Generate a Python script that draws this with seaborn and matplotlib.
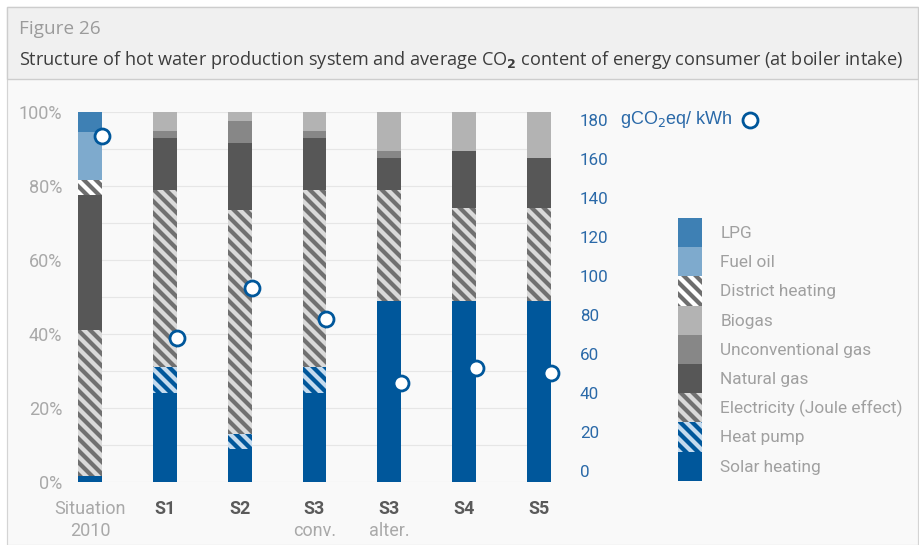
import numpy as np
import matplotlib.pyplot as plt
import seaborn as sns
from matplotlib.patches import Patch, Rectangle
from matplotlib.lines import Line2D

# categories
scenarios = ['Situation 2010', 'S1', 'S2', 'S3 conv.', 'S3 alter.', 'S4', 'S5']
label_top = ['Situation', 'S1', 'S2', 'S3', 'S3', 'S4', 'S5']
label_sub = ['2010', '', '', 'conv.', 'alter.', '', '']

# shares of hot water production (%), bottom -> top of the stack
solar = [1.5, 24, 9, 24, 49, 49, 49]
heat_pump = [0, 7, 4, 7, 0, 0, 0]
electricity = [39.5, 48, 60.5, 48, 30, 25, 25]
natural_gas = [36.5, 14, 18, 14, 8.5, 15.5, 13.5]
unconv_gas = [0, 2, 6, 2, 2, 0, 0]
biogas = [0, 5, 2.5, 5, 10.5, 10.5, 12.5]
district = [4, 0, 0, 0, 0, 0, 0]
fuel_oil = [13, 0, 0, 0, 0, 0, 0]
lpg = [5.5, 0, 0, 0, 0, 0, 0]

# average CO2 content (gCO2eq/kWh)
co2 = [172, 68, 94, 78, 45, 53, 50]

pct_ticks = [0, 20, 40, 60, 80, 100]
co2_ticks = [0, 20, 40, 60, 80, 100, 120, 140, 160, 180]

BLUE = '#00579b'
STRIPES = '\\' * 4
# (label, values, face colour, hatch colour, hatch)
layers = [
    ('Solar heating', solar, BLUE, BLUE, None),
    ('Heat pump', heat_pump, BLUE, '#c5dbee', STRIPES),
    ('Electricity (Joule effect)', electricity, '#dadada', '#707070', STRIPES),
    ('Natural gas', natural_gas, '#575757', '#575757', None),
    ('Unconventional gas', unconv_gas, '#878787', '#878787', None),
    ('Biogas', biogas, '#b3b3b3', '#b3b3b3', None),
    ('District heating', district, '#ffffff', '#6e6e6e', STRIPES),
    ('Fuel oil', fuel_oil, '#7eaacd', '#7eaacd', None),
    ('LPG', lpg, '#3e80b4', '#3e80b4', None),
]

sns.set_style('white')
plt.rcParams['font.family'] = ['Roboto', 'DejaVu Sans']
plt.rcParams['hatch.linewidth'] = 2.1

W, H, DPI = 919, 545, 144
fig = plt.figure(figsize=(W / DPI, H / DPI), dpi=DPI, facecolor='white')

# frame + header band
fig.add_artist(Rectangle((7 / W, 0), (918 - 7) / W, 1 - 7 / H, transform=fig.transFigure,
                         facecolor='#f9f9f9', edgecolor='#d4d4d4', lw=0.6, zorder=-10))
fig.add_artist(Rectangle((7 / W, 1 - 79 / H), (918 - 7) / W, (79 - 7) / H, transform=fig.transFigure,
                         facecolor='#f0f0f0', edgecolor='#cdcdcd', lw=0.7, zorder=-9))
fig.text(19 / W, 1 - 29 / H, 'Figure 26', family=['Open Sans', 'DejaVu Sans'], size=9.5,
         color='#9b9b9b', va='center')
fig.text(19 / W, 1 - 60 / H,
         r'Structure of hot water production system and average CO$_\mathbf{2}$ content of energy consumer (at boiler intake)',
         family=['Open Sans', 'DejaVu Sans'], size=9.05, color='#3c3c3c', va='center')

ax = fig.add_axes([78 / W, 63 / H, 473 / W, 370 / H])
ax.set_facecolor('none')

bar_w = 0.32
cum = np.cumsum(np.array([l[1] for l in layers], dtype=float), axis=0)
for i in reversed(range(len(layers))):
    name, vals, fc, hc, hatch = layers[i]
    n0 = len(ax.patches)
    sns.barplot(x=scenarios, y=cum[i], order=scenarios, color=fc, saturation=1,
                width=bar_w, errorbar=None, ax=ax)
    for p in ax.patches[n0:]:
        p.set_facecolor(fc)
        p.set_edgecolor(hc)
        p.set_linewidth(0)
        if hatch:
            p.set_hatch(hatch)

ax.set_xlim(-bar_w / 2, len(scenarios) - 1 + bar_w / 2)
ax.set_ylim(0, 100)
ax.set_yticks(pct_ticks)
ax.set_yticklabels([f'{v}%' for v in pct_ticks])
ax.set_yticks(range(0, 101, 10), minor=True)
ax.grid(which='both', axis='y', color='#e6e6e6', lw=0.6)
ax.set_axisbelow(True)
ax.tick_params(axis='y', which='both', length=0, pad=8, labelsize=9, labelcolor='#a9a9a9')
ax.set_xticks(range(len(scenarios)))
ax.set_xticklabels([])
ax.tick_params(axis='x', length=0)
ax.set_xlabel('')
ax.set_ylabel('')
for s in ax.spines.values():
    s.set_visible(False)

for i in range(len(scenarios)):
    bold = i > 0
    ax.annotate(label_top[i], xy=(i, 0), xycoords=('data', 'axes fraction'), xytext=(0, -13.5),
                textcoords='offset points', ha='center', va='center', fontsize=9,
                fontweight='bold' if bold else 'normal',
                color='#5a5a5a' if bold else '#a9a9a9')
    if label_sub[i]:
        ax.annotate(label_sub[i], xy=(i, 0), xycoords=('data', 'axes fraction'), xytext=(0, -24.5),
                    textcoords='offset points', ha='center', va='center', fontsize=9, color='#a9a9a9')

# CO2 content on the right axis, marker at right edge of each bar
ax2 = ax.twinx()
sns.scatterplot(x=np.arange(len(scenarios)) + bar_w / 2, y=co2, ax=ax2, s=56, color='white',
                edgecolor=BLUE, linewidth=1.4, zorder=5, clip_on=False, legend=False)
ax2.set_xlim(ax.get_xlim())
ax2.set_ylim(-5.64, 184.1)
ax2.set_yticks(co2_ticks)
ax2.tick_params(axis='y', length=0, pad=14.5, labelsize=8.5, labelcolor='#2a69a8')
ax2.set_ylabel('')
for s in ax2.spines.values():
    s.set_visible(False)

fig.text(620 / W, 1 - 120 / H, r'gCO$_2$eq/ kWh', family=['Liberation Sans', 'DejaVu Sans'],
         size=9, color='#2a69a8', va='center')
fig.add_artist(Line2D([750 / W], [1 - 120 / H], transform=fig.transFigure, marker='o',
                      markersize=7.5, markerfacecolor='white', markeredgecolor=BLUE,
                      markeredgewidth=1.4, linestyle='none'))

handles = [Patch(facecolor=fc, edgecolor=hc, hatch=hatch, linewidth=0, label=name)
           for name, vals, fc, hc, hatch in reversed(layers)]
fig.legend(handles=handles, loc='upper left', bbox_to_anchor=(678 / W, 1 - 218 / H),
           frameon=False, fontsize=8.6, handlelength=1.4, handleheight=2.235, labelspacing=0,
           handletextpad=1.05, borderpad=0, borderaxespad=0, labelcolor='#a0a0a0')

fig.savefig('out.png', dpi=DPI)
